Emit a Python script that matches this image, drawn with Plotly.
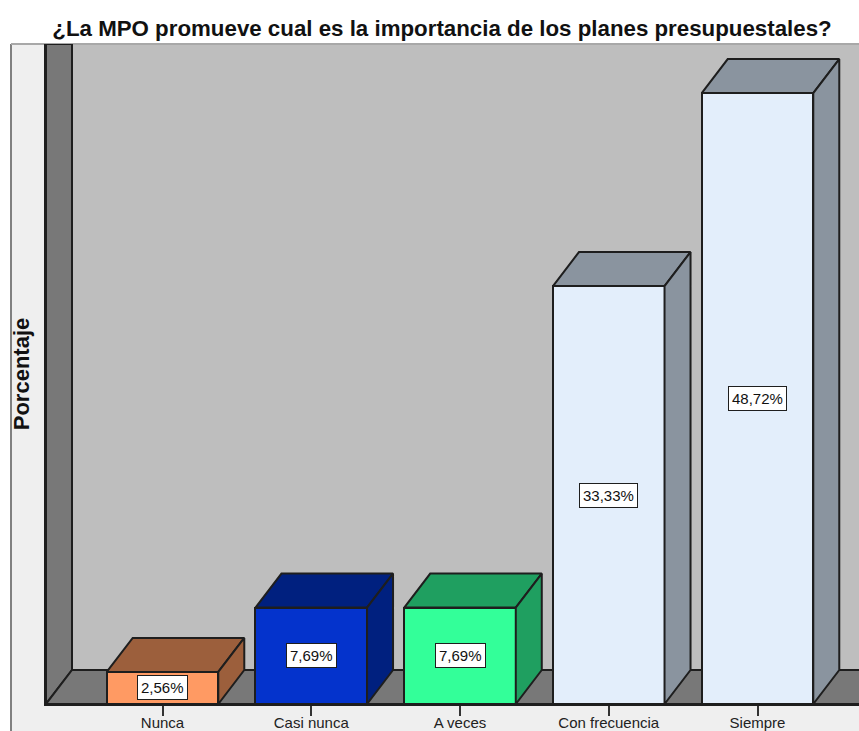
import plotly.graph_objects as go

categories = ["Nunca", "Casi nunca", "A veces", "Con frecuencia", "Siempre"]
values = [2.56, 7.69, 7.69, 33.33, 48.72]
front_colors = ["#FF9A63", "#0433CC", "#33FF99", "#E3EEFB", "#E3EEFB"]
depth_colors = ["#9C5F3C", "#00207F", "#1F9F60", "#8A949F", "#8A949F"]

W, H = 859, 731
L, R, T, B = 46, 0, 44, 27
PX_PER_CAT = 148.75
PX_PER_PCT = 12.54
FIRST_CAT_PX = 162.5
DX = 26 / PX_PER_CAT
DY = 34 / PX_PER_PCT
BAR_W = 0.75
EDGE = "#1E1E1E"

x0_range = (L - FIRST_CAT_PX) / PX_PER_CAT
x1_range = (W - R - FIRST_CAT_PX) / PX_PER_CAT
y1_range = (H - T - B) / PX_PER_PCT
plot_w = W - L - R
plot_h = H - T - B
PANEL = "#EFEFEF"
WALL = "#787878"

fig = go.Figure()

# front faces
fig.add_trace(go.Bar(
    x=list(range(len(categories))), y=values, width=BAR_W,
    marker=dict(color=front_colors, line=dict(color=EDGE, width=2)),
    hoverinfo="skip", showlegend=False,
))

# top and side faces
for i, v in enumerate(values):
    xl, xr = i - BAR_W / 2, i + BAR_W / 2
    fig.add_trace(go.Scatter(
        x=[xl, xr, xr + DX, xl + DX, xl], y=[v, v, v + DY, v + DY, v],
        mode="lines", fill="toself", fillcolor=depth_colors[i],
        line=dict(color=EDGE, width=2), hoverinfo="skip", showlegend=False,
    ))
    fig.add_trace(go.Scatter(
        x=[xr, xr + DX, xr + DX, xr, xr], y=[0, DY, v + DY, v, 0],
        mode="lines", fill="toself", fillcolor=depth_colors[i],
        line=dict(color=EDGE, width=2), hoverinfo="skip", showlegend=False,
    ))

shapes = [
    # light panel, left and bottom of the plot
    dict(type="rect", xref="paper", yref="paper", layer="below",
         x0=(11 - L) / plot_w, x1=0, y0=-B / plot_h, y1=1,
         fillcolor=PANEL, line=dict(width=0)),
    dict(type="rect", xref="paper", yref="paper", layer="below",
         x0=(11 - L) / plot_w, x1=1, y0=-B / plot_h, y1=0,
         fillcolor=PANEL, line=dict(width=0)),
    # frame borders
    dict(type="line", xref="paper", yref="paper", layer="below",
         x0=(11 - L) / plot_w, x1=(11 - L) / plot_w, y0=-B / plot_h, y1=1,
         line=dict(color="#808080", width=2)),
    dict(type="line", xref="paper", yref="paper", layer="below",
         x0=(11 - L) / plot_w, x1=1, y0=1, y1=1,
         line=dict(color="#A8A8A8", width=2)),
    # left wall
    dict(type="path", xref="x", yref="y", layer="below",
         path=f"M {x0_range} 0 L {x0_range + DX} {DY} L {x0_range + DX} {y1_range} L {x0_range} {y1_range} Z",
         fillcolor=WALL, line=dict(color=EDGE, width=2)),
    # floor
    dict(type="path", xref="x", yref="y", layer="below",
         path=f"M {x0_range} 0 L {x0_range + DX} {DY} L {x1_range + 1} {DY} L {x1_range + 1} 0 Z",
         fillcolor=WALL, line=dict(color=EDGE, width=2)),
]

annotations = [
    dict(x=i, y=v / 2, xref="x", yref="y", text=f"{v:.2f}%".replace(".", ","),
         showarrow=False, bgcolor="white", bordercolor=EDGE, borderwidth=1, borderpad=3,
         font=dict(family="Liberation Sans", size=15, color="#111111"))
    for i, v in enumerate(values)
]

fig.update_layout(
    width=W, height=H, autosize=False,
    margin=dict(l=L, r=R, t=T, b=B, pad=0),
    paper_bgcolor="white", plot_bgcolor="#BEBEBE",
    title=dict(text="<b>¿La MPO promueve cual es la importancia de los planes presupuestales?</b>",
               x=442 / W, xanchor="center", y=1 - 28 / H, yanchor="middle",
               font=dict(family="Liberation Sans", size=22.3, color="#111111")),
    shapes=shapes, annotations=annotations, bargap=0,
    xaxis=dict(range=[x0_range, x1_range], tickmode="array",
               tickvals=list(range(len(categories))), ticktext=categories,
               ticks="outside", ticklen=10, tickwidth=2, tickcolor="#333333",
               showgrid=False, zeroline=False, showline=True, linecolor=EDGE, linewidth=2,
               ticklabelstandoff=-6,
               tickfont=dict(family="Liberation Sans", size=15, color="#222222"),
               automargin=False),
    yaxis=dict(range=[0, y1_range], showticklabels=False, ticks="", showgrid=False,
               zeroline=False, showline=True, linecolor=EDGE, linewidth=2, automargin=False,
               title=dict(text="<b>Porcentaje</b>", standoff=8,
                          font=dict(family="Liberation Sans", size=22, color="#111111"))),
)

fig.write_html("out.html", config={"displayModeBar": False},
               post_script="document.body.style.margin='0';document.documentElement.style.overflow='hidden';")
